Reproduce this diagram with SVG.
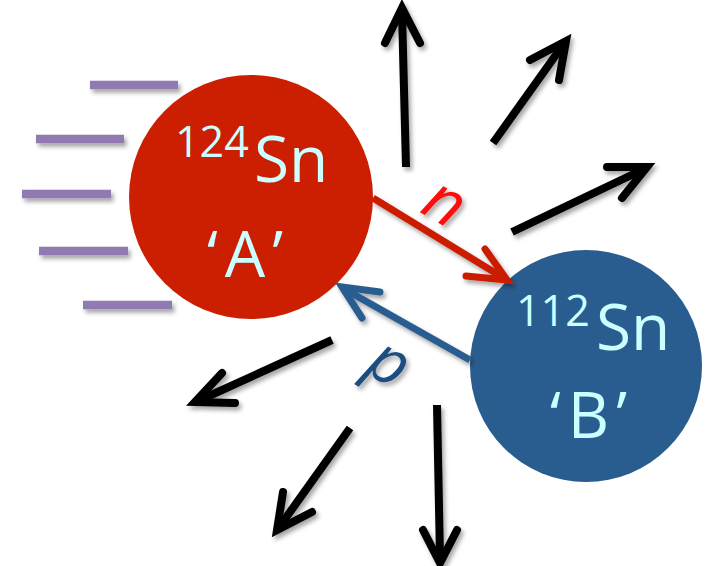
<svg xmlns="http://www.w3.org/2000/svg" width="709" height="566" viewBox="0 0 709 566">
  <style>
    .shaft { fill: none; stroke: #000; stroke-width: 8; stroke-linecap: butt; }
    .head { fill: none; stroke: #000; stroke-width: 8; stroke-linecap: round; stroke-linejoin: miter; }
    .trail { stroke: #9179B1; stroke-width: 8.5; }
    .nuc { fill: #CCFFFF; font-family: "Open Sans", "DejaVu Sans", sans-serif; }
    .sup { font-size: 43px; }
    .sym { font-size: 64px; }
    .tag { font-size: 64px; letter-spacing: 7px; }
    .xfer { font-family: "Open Sans", "DejaVu Sans", sans-serif; font-style: italic; font-size: 64px; text-anchor: middle; }
  </style>
  <defs>
    <filter id="shadow" x="-20%" y="-20%" width="140%" height="140%">
      <feDropShadow dx="2.5" dy="3.5" stdDeviation="2.2" flood-color="#000" flood-opacity="0.35"/>
    </filter>
  </defs>
  <rect width="709" height="566" fill="#fff"/>

  <!-- motion trail behind nucleus A -->
  <g id="trail" filter="url(#shadow)">
    <line class="trail" x1="90" y1="85" x2="178" y2="85"/>
    <line class="trail" x1="36" y1="139" x2="124" y2="139"/>
    <line class="trail" x1="22" y1="194" x2="111" y2="194"/>
    <line class="trail" x1="39" y1="251" x2="128" y2="251"/>
    <line class="trail" x1="83" y1="305" x2="172" y2="305"/>
  </g>

  <!-- emitted fragments -->
  <g id="emission" filter="url(#shadow)">
    <path class="shaft" d="M406,167 L402,12"/>
    <path class="head" d="M385,43 L402,8 L420,43"/>
    <path class="shaft" d="M493,143 L563,45"/>
    <path class="head" d="M530,60 L566,41 L559,80"/>
    <path class="shaft" d="M512,232 L642,170"/>
    <path class="head" d="M607,167 L647,167 L622,198"/>
    <path class="shaft" d="M332,340 L200,400"/>
    <path class="head" d="M222,373 L195,402 L235,403"/>
    <path class="shaft" d="M350,428 L280,526"/>
    <path class="head" d="M283,492 L277,530 L312,512"/>
    <path class="shaft" d="M437,405 L440,558"/>
    <path class="head" d="M423,530 L440,563 L457,530"/>
  </g>

  <!-- nucleus A -->
  <g id="nucleusA">
    <circle cx="251" cy="197" r="122" fill="#CC1E00"/>
    <text class="nuc" x="175" y="157"><tspan class="sup">124</tspan><tspan class="sym" x="254" y="182">Sn</tspan></text>
    <text class="nuc tag" x="207" y="277">‘A’</text>
  </g>

  <!-- nucleus B -->
  <g id="nucleusB">
    <circle cx="586" cy="366" r="116" fill="#2A5D8F"/>
    <text class="nuc" x="516" y="326"><tspan class="sup">112</tspan><tspan class="sym" x="596" y="350">Sn</tspan></text>
    <text class="nuc tag" x="550" y="438">‘B’</text>
  </g>

  <!-- nucleon transfer -->
  <g id="connectors" filter="url(#shadow)">
    <g id="neutron">
      <path d="M373,198 L502,277" fill="none" stroke="#CC1E00" stroke-width="7"/>
      <path d="M485,249 L507,280 L466,276" fill="none" stroke="#CC1E00" stroke-width="7" stroke-linecap="round"/>
      <text class="xfer" fill="#FF0A0A" transform="translate(443,206) rotate(30)" y="17">n</text>
    </g>
    <g id="proton">
      <path d="M470,360 L346,290" fill="none" stroke="#2A5D8F" stroke-width="7"/>
      <path d="M380,292 L342,287 L362,318" fill="none" stroke="#2A5D8F" stroke-width="7" stroke-linecap="round"/>
      <text class="xfer" fill="#1F4E80" transform="translate(384,372) rotate(30)" y="10">p</text>
    </g>
  </g>
</svg>
